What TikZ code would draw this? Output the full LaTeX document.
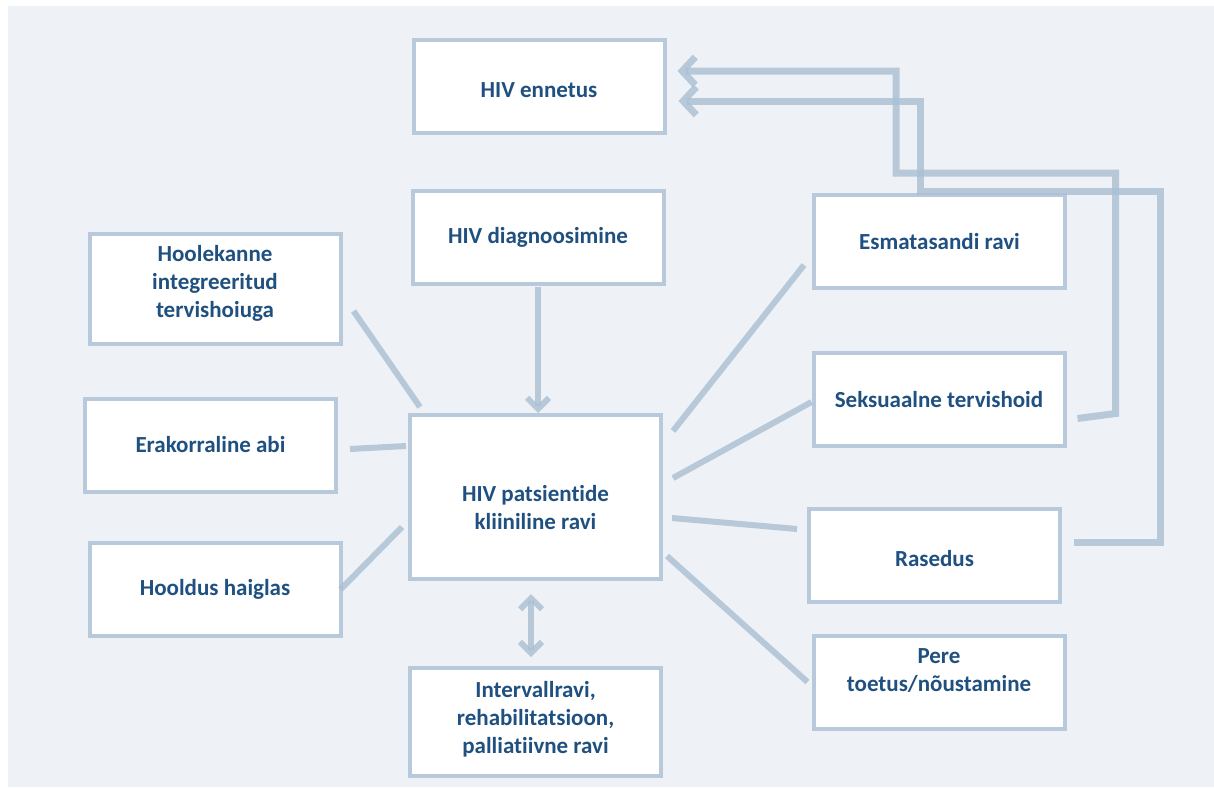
\documentclass[tikz,border=0pt]{standalone}
\usepackage{fontspec}
\setmainfont{Carlito}[Ligatures=NoCommon]
\usepackage{tikz}
\usetikzlibrary{arrows.meta}
\definecolor{panelbg}{HTML}{EEF2F6}
\definecolor{boxline}{HTML}{B7C9DA}
\definecolor{linkline}{HTML}{ABC0D3}
\definecolor{boxtext}{HTML}{1F5080}
\tikzset{
  card/.style={draw=boxline,line width=4pt,fill=white,minimum width=251pt,minimum height=93pt,inner sep=2pt,align=center,text=boxtext,font=\bfseries\fontsize{23}{28}\selectfont},
  link/.style={draw=linkline,draw opacity=0.82,line width=6pt},
  loopback/.style={draw=linkline,draw opacity=0.82,line width=7pt,-{Straight Barb[length=13pt,width=28pt]}},
  chev/.tip={Straight Barb[length=11pt,width=22pt]}
}
\begin{document}
\begin{tikzpicture}[x=1pt,y=-1pt]
\useasboundingbox (0,0) rectangle (1214,787);
\fill[panelbg] (8,6) rectangle (1214,787);

\node[card] (ennet) at (539,86) {\rule{0pt}{23pt}HIV ennetus};
\node[card] (diag) at (538,237.5) {HIV diagnoosimine};
\node[card,minimum height=110pt] (hoole) at (215,289) {Hoolekanne\\integreeritud\\tervishoiuga\rule[-15pt]{0pt}{0pt}};
\node[card] (erak) at (210.5,445) {Erakorraline abi};
\node[card] (haigla) at (215,589.5) {Hooldus haiglas};
\node[card,minimum height=164pt] (ravi) at (535.5,497) {\rule{0pt}{38pt}HIV patsientide\\kliiniline ravi};
\node[card,minimum height=108pt] (interv) at (535.5,722) {Intervallravi,\\rehabilitatsioon,\\palliatiivne ravi\rule[-10pt]{0pt}{0pt}};
\node[card] (esmat) at (939.5,241.5) {Esmatasandi ravi};
\node[card] (seks) at (939,399.5) {Seksuaalne tervishoid};
\node[card] (rased) at (934.5,555) {\rule{0pt}{23pt}Rasedus};
\node[card] (pere) at (939,682) {Pere\\toetus/nõustamine\rule[-24pt]{0pt}{0pt}};

\coordinate (knotA) at (896,173);
\coordinate (knotB) at (920,191);

\draw[link] ([shift={(11,22)}]hoole.east) -- ([shift={(12,-6)}]ravi.north west);
\draw[link] ([shift={(12,4)}]erak.east) -- ([shift={(-2,-51)}]ravi.west);
\draw[link] ([shift={(-2,0)}]haigla.east) -- ([shift={(-6,30)}]ravi.west);
\draw[link,-chev] ([shift={(0,1)}]diag.south) -- ([shift={(2.5,0)}]ravi.north);
\draw[link,chev-chev] ([shift={(-4.5,13)}]ravi.south) -- ([shift={(-4.5,-9)}]interv.north);
\draw[link] ([shift={(10,-66)}]ravi.east) -- ([shift={(-8,-25)}]esmat.south west);
\draw[link] ([shift={(10,-19)}]ravi.east) -- ([shift={(0,2.5)}]seks.west);
\draw[link] ([shift={(9,21)}]ravi.east) -- ([shift={(-10,-26)}]rased.west);
\draw[link] ([shift={(4,59)}]ravi.east) -- ([shift={(-4,0)}]pere.west);

\draw[loopback] ([shift={(11,19)}]seks.east) -- ++(38,-5) |- (knotA) |- ([shift={(11,-15)}]ennet.east);
\draw[loopback] ([shift={(12,-13)}]rased.east) -- ++(86,0) |- (knotB) |- ([shift={(12,15)}]ennet.east);
\end{tikzpicture}
\end{document}
